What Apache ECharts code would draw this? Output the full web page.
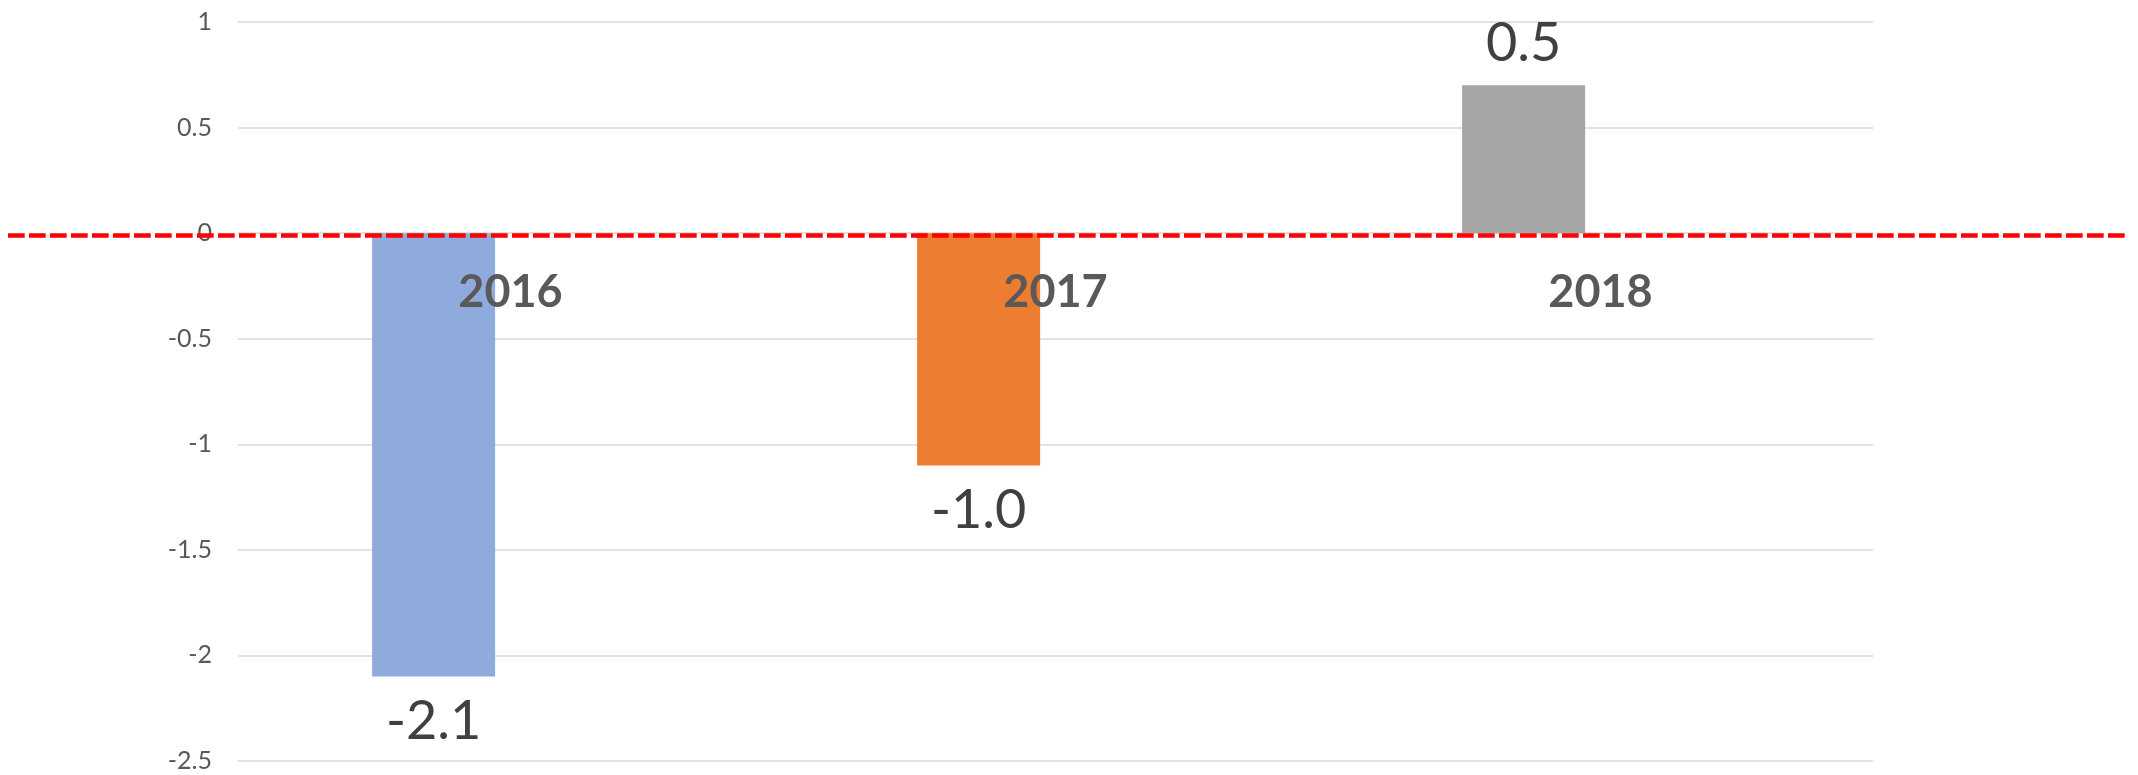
<!DOCTYPE html>
<html>
<head>
<meta charset="utf-8">
<script src="https://cdn.jsdelivr.net/npm/echarts@6/dist/echarts.min.js"></script>
<style>
html,body{margin:0;padding:0;background:#fff;}
#chart{width:2138px;height:775px;}
</style>
</head>
<body>
<div id="chart"></div>
<script>
// ---- data ----
var categories = ['2016', '2017', '2018'];
var barValues = [-2.1, -1.1, 0.7];          // bar heights as drawn
var valueLabels = ['-2.1', '-1.0', '0.5'];  // data label texts as printed
var barColors = ['#8FAADC', '#ED7D31', '#A5A5A5'];
var yMin = -2.5, yMax = 1, yStep = 0.5;
var refLineValue = 0;

var FONT = 'Lato, "Open Sans", sans-serif';

var chart = echarts.init(document.getElementById('chart'), null, {renderer: 'canvas'});

var gridCommon = {containLabel: false, outerBoundsMode: 'none'};

var option = {
  backgroundColor: '#ffffff',
  animation: false,
  grid: [
    // main plot
    Object.assign({left: 238, right: 265, top: 22, bottom: 14}, gridCommon),
    // full-width band for the red reference line
    Object.assign({left: 8, right: 13, top: 24.5, bottom: 11.5}, gridCommon),
    // band whose bottom edge sits on the zero line, carrying the category labels
    Object.assign({left: 238, right: 265, top: 22, bottom: 543}, gridCommon)
  ],
  xAxis: [
    {
      gridIndex: 0,
      type: 'category',
      data: categories,
      axisLine: {show: false},
      axisTick: {show: false},
      axisLabel: {show: false}
    },
    {
      gridIndex: 1,
      type: 'value',
      min: 0, max: 1,
      show: false
    },
    {
      gridIndex: 2,
      type: 'category',
      position: 'bottom',
      data: categories,
      z: 20,
      axisLine: {show: false},
      axisTick: {show: false},
      axisLabel: {
        color: '#595959',
        fontFamily: FONT,
        fontWeight: 'bold',
        fontSize: 45,
        margin: 38
      }
    }
  ],
  yAxis: [
    {
      gridIndex: 0,
      type: 'value',
      min: yMin, max: yMax, interval: yStep,
      axisLine: {show: false},
      axisTick: {show: false},
      axisLabel: {
        color: '#595959',
        fontFamily: FONT,
        fontSize: 25,
        margin: 26
      },
      splitLine: {lineStyle: {color: '#D9D9D9', width: 1.5}}
    },
    {
      gridIndex: 1,
      type: 'value',
      min: yMin, max: yMax,
      show: false
    },
    {
      gridIndex: 2,
      type: 'value',
      min: 0, max: 1,
      show: false
    }
  ],
  series: [
    {
      name: 'value',
      type: 'bar',
      xAxisIndex: 0, yAxisIndex: 0,
      barWidth: 123,
      barGap: '25%',
      data: barValues.map(function (v, i) {
        return {
          value: v,
          itemStyle: {color: barColors[i]},
          label: {distance: v < 0 ? 18 : 15}
        };
      }),
      label: {
        show: true,
        position: 'outside',
        color: '#404040',
        fontFamily: FONT,
        fontSize: 54,
        formatter: function (p) { return valueLabels[p.dataIndex]; }
      },
      z: 2
    },
    {
      name: 'placeholder',
      type: 'bar',
      xAxisIndex: 0, yAxisIndex: 0,
      barWidth: 123,
      data: categories.map(function () { return null; })
    },
    {
      name: 'reference',
      type: 'line',
      xAxisIndex: 1, yAxisIndex: 1,
      data: [],
      z: 30,
      markLine: {
        silent: true,
        symbol: ['none', 'none'],
        label: {show: false},
        lineStyle: {color: '#FF0000', width: 4.5, type: [16.7, 4.3]},
        data: [{yAxis: refLineValue}]
      }
    },
    {
      name: 'labels',
      type: 'bar',
      xAxisIndex: 2, yAxisIndex: 2,
      data: [],
      silent: true
    }
  ]
};

chart.setOption(option);
</script>
</body>
</html>
